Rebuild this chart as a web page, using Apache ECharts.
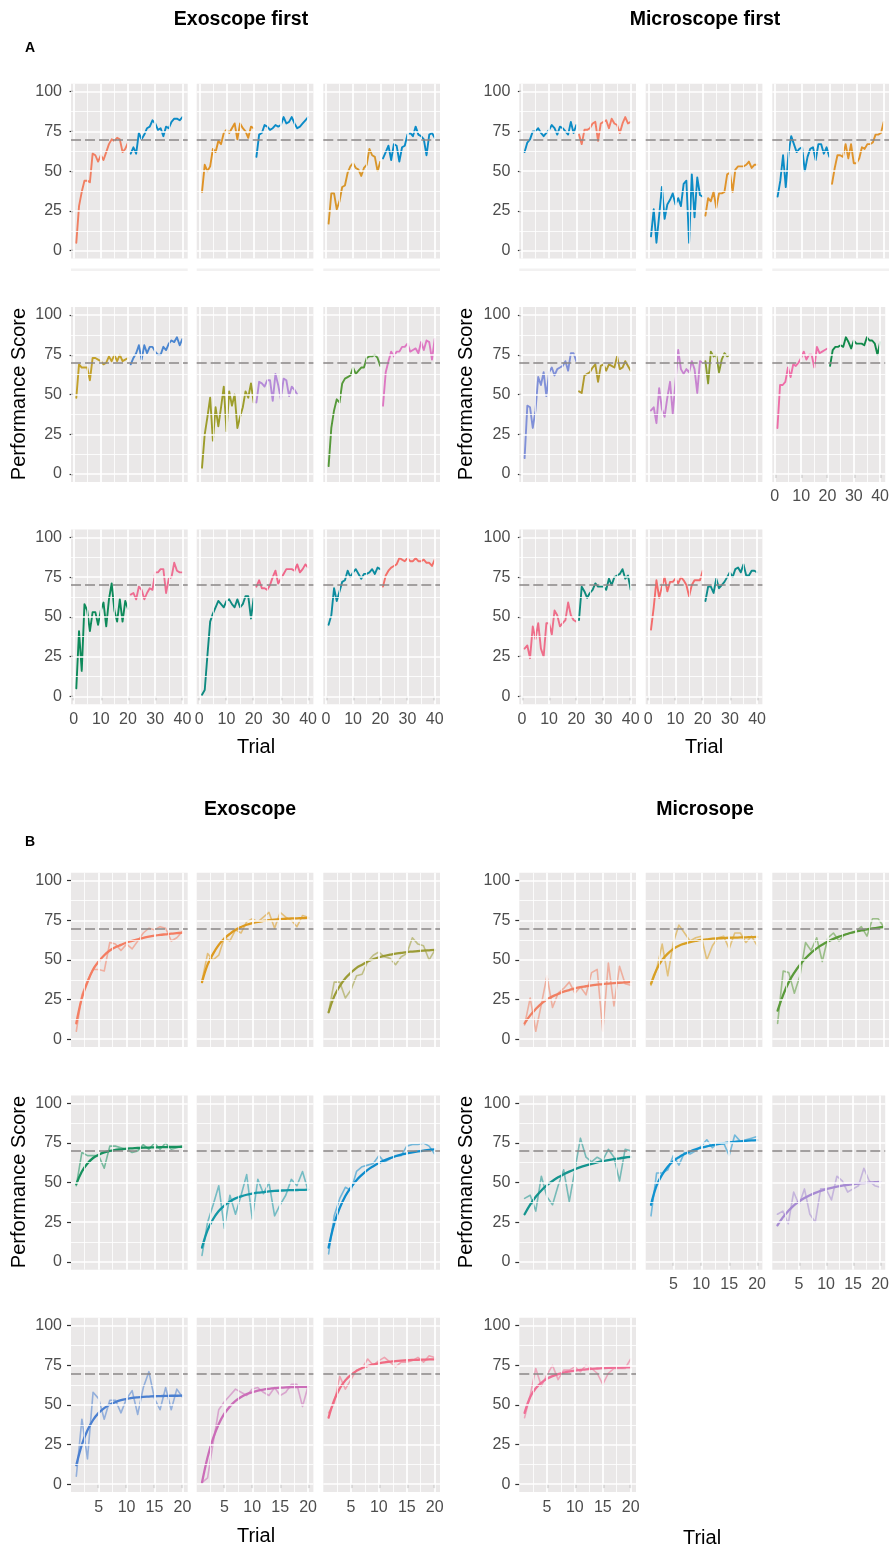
<!DOCTYPE html>
<html><head><meta charset="utf-8">
<script src="https://cdn.jsdelivr.net/npm/echarts@6/dist/echarts.min.js"></script>
<style>html,body{margin:0;padding:0;background:#fff}#c{width:892px;height:1554px}</style>
</head><body><div id="c"></div>
<script>
// ---------------- DATA ----------------
const yTicks = [0, 25, 50, 75, 100];
const yTickLabels = ['0', '25', '50', '75', '100'];
const yMinor = [12.5, 37.5, 62.5, 87.5];
const xTicksA = [0, 10, 20, 30, 40];
const xMinorA = [5, 15, 25, 35];
const xTicksB = [5, 10, 15, 20];
const xMinorB = [2.5, 7.5, 12.5, 17.5];
const threshold = 70;

// Exoscope-first subjects: exoscope trials 1-20, microscope trials 21-40
const e1Exo = [5, 28, 37, 44, 44, 43, 61, 60, 56, 60, 57, 62, 67, 70, 69, 71, 70, 62, 64, 68];
const e1Mic = [61, 65, 61, 74, 70, 73, 77, 78, 82, 80, 76, 77, 72, 78, 77, 81, 83, 83, 82, 84];
const e2Exo = [37, 54, 50, 53, 64, 62, 69, 67, 74, 76, 74, 77, 80, 70, 80, 77, 75, 71, 78, 77];
const e2Mic = [59, 73, 74, 79, 78, 76, 77, 79, 78, 79, 84, 80, 81, 84, 80, 77, 78, 80, 82, 84];
const e3Exo = [17, 36, 36, 26, 31, 40, 41, 49, 53, 55, 52, 51, 47, 52, 54, 64, 60, 59, 50, 56];
const e3Mic = [58, 62, 66, 57, 67, 66, 56, 65, 66, 73, 74, 72, 78, 73, 72, 70, 60, 73, 74, 71];
const e4Exo = [48, 69, 67, 67, 67, 59, 73, 73, 72, 71, 69, 70, 74, 71, 75, 71, 75, 71, 72, 73];
const e4Mic = [69, 73, 76, 81, 72, 81, 76, 80, 80, 77, 75, 75, 80, 78, 82, 84, 83, 86, 81, 85];
const e5Exo = [4, 25, 36, 48, 21, 42, 30, 42, 55, 27, 52, 43, 50, 29, 36, 42, 52, 48, 57, 45];
const e5Mic = [45, 58, 57, 55, 59, 59, 46, 63, 56, 47, 60, 59, 49, 55, 53, 50];
const e6Exo = [5, 29, 40, 47, 45, 57, 60, 61, 62, 67, 63, 65, 67, 67, 73, 74, 74, 75, 73, 68];
const e6Mic = [43, 64, 71, 77, 74, 77, 77, 80, 80, 82, 77, 78, 79, 76, 83, 78, 84, 83, 72, 85];
const e7Exo = [5, 41, 16, 58, 54, 41, 53, 53, 45, 54, 59, 44, 61, 71, 54, 47, 61, 47, 60, 55];
const e7Mic = [64, 65, 61, 69, 67, 61, 65, 68, 67, 78, 78, 80, 80, 65, 74, 75, 84, 79, 78, 78];
const e8Exo = [1, 4, 26, 47, 52, 56, 60, 58, 56, 60, 61, 58, 56, 61, 56, 58, 63, 63, 49, 62];
const e8Mic = [69, 73, 68, 68, 67, 70, 75, 79, 71, 74, 77, 80, 80, 80, 79, 83, 78, 80, 83, 81];
const e9Exo = [45, 51, 68, 60, 66, 72, 73, 79, 75, 78, 80, 77, 74, 77, 77, 78, 80, 77, 81, 80];
const e9Mic = [69, 76, 79, 81, 82, 83, 87, 86, 85, 87, 85, 85, 87, 85, 85, 86, 84, 84, 82, 86];

// Microscope-first subjects: microscope trials 1-20, exoscope trials 21-40
const m1Mic = [62, 68, 70, 75, 75, 77, 74, 72, 74, 76, 79, 77, 73, 78, 77, 75, 73, 81, 74, 79];
const m1Exo = [73, 67, 76, 76, 77, 80, 81, 69, 80, 81, 82, 77, 83, 80, 79, 74, 80, 84, 80, 81];
const m2Mic = [9, 26, 5, 22, 40, 20, 29, 32, 36, 29, 33, 28, 42, 44, 5, 48, 21, 46, 35, 34];
const m2Exo = [22, 33, 31, 37, 27, 36, 36, 37, 48, 49, 37, 51, 53, 53, 53, 54, 56, 52, 54, 54];
const m3Mic = [34, 44, 60, 40, 61, 72, 67, 62, 64, 65, 50, 59, 64, 65, 57, 67, 67, 61, 65, 59];
const m3Exo = [42, 52, 60, 60, 59, 67, 58, 67, 55, 55, 58, 65, 64, 67, 67, 68, 73, 73, 74, 81];
const m4Mic = [10, 43, 42, 29, 40, 61, 56, 64, 49, 64, 67, 62, 66, 67, 68, 71, 65, 76, 76, 71];
const m4Exo = [52, 51, 62, 63, 64, 67, 69, 58, 68, 69, 65, 69, 68, 67, 74, 66, 67, 71, 68, 65];
const m5Mic = [40, 42, 32, 54, 41, 36, 48, 58, 38, 58, 78, 66, 63, 66, 64, 71, 66, 51, 71, 70];
const m5Exo = [71, 57, 77, 74, 75, 64, 72, 76, 74, 75];
const m6Mic = [29, 56, 56, 58, 67, 61, 69, 68, 70, 73, 77, 72, 75, 75, 67, 80, 76, 77, 78, 79];
const m6Exo = [68, 78, 80, 80, 81, 80, 86, 83, 79, 84, 82, 82, 82, 81, 86, 84, 84, 82, 75, 83];
const m7Mic = [30, 32, 24, 44, 36, 46, 30, 25, 46, 46, 39, 54, 51, 44, 46, 48, 59, 51, 48, 47];
const m7Exo = [48, 69, 66, 62, 65, 67, 71, 69, 69, 69, 67, 74, 70, 75, 76, 77, 80, 74, 76, 67];
const m8Mic = [42, 56, 73, 62, 69, 75, 66, 72, 72, 74, 71, 75, 73, 70, 63, 70, 73, 73, 73, 79];
const m8Exo = [60, 69, 69, 65, 74, 68, 70, 72, 75, 78, 75, 80, 81, 78, 83, 76, 76, 79, 79, 78];

// Fitted learning curves (panel B), trials 1-20
const fitE1 = [10, 26, 36, 44, 49, 53, 56, 58, 59.5, 61, 62, 63, 64, 64.7, 65.3, 65.8, 66.2, 66.6, 66.9, 67.2];
const fitE2 = [36, 47, 54, 59.5, 63.5, 66.5, 69, 70.8, 72.2, 73.2, 74, 74.6, 75.1, 75.5, 75.8, 76, 76.2, 76.3, 76.4, 76.5];
const fitE3 = [17, 27, 33.5, 38.5, 42, 45, 47, 49, 50.5, 51.7, 52.6, 53.3, 54, 54.5, 55, 55.3, 55.6, 55.9, 56.1, 56.3];
const fitE4 = [49, 57, 62, 65.5, 67.5, 69, 70, 70.6, 71, 71.4, 71.6, 71.8, 72, 72.1, 72.2, 72.3, 72.4, 72.5, 72.5, 72.6];
const fitE5 = [9, 20, 27, 32, 35.5, 38, 40, 41.3, 42.3, 43, 43.6, 44, 44.4, 44.7, 44.9, 45.1, 45.2, 45.3, 45.4, 45.5];
const fitE6 = [9, 24, 34, 41.5, 47, 51.5, 55, 58, 60.3, 62.3, 64, 65.4, 66.6, 67.6, 68.4, 69.1, 69.7, 70.2, 70.6, 71];
const fitE7 = [12, 25, 34, 40.5, 45, 48, 50.3, 51.8, 53, 53.8, 54.4, 54.8, 55.1, 55.3, 55.5, 55.6, 55.7, 55.8, 55.8, 55.9];
const fitE8 = [1, 17, 29, 38, 44.5, 49, 52.5, 55, 56.8, 58, 59, 59.7, 60.2, 60.6, 60.9, 61.1, 61.2, 61.3, 61.4, 61.5];
const fitE9 = [42, 53, 60.5, 65.5, 69, 71.5, 73.3, 74.6, 75.6, 76.3, 76.9, 77.3, 77.7, 78, 78.2, 78.4, 78.5, 78.6, 78.7, 78.8];
const fitM2 = [10, 15, 19, 22.5, 25, 27, 28.5, 30, 31, 32, 32.8, 33.4, 34, 34.4, 34.8, 35.1, 35.4, 35.6, 35.8, 36];
const fitM3 = [35, 44, 50, 54, 57, 59, 60.3, 61.3, 62, 62.6, 63, 63.4, 63.6, 63.8, 64, 64.1, 64.2, 64.3, 64.4, 64.5];
const fitM4 = [18, 28, 36, 42, 47, 51, 54.5, 57.3, 59.6, 61.6, 63.3, 64.7, 65.9, 67, 67.9, 68.6, 69.3, 69.9, 70.4, 70.8];
const fitM5 = [30, 36, 41, 45, 48.3, 51, 53.3, 55.2, 56.9, 58.4, 59.7, 60.8, 61.8, 62.7, 63.5, 64.2, 64.8, 65.3, 65.8, 66.2];
const fitM6 = [36, 48, 55, 60, 63.5, 66, 68, 69.6, 70.9, 72, 72.9, 73.6, 74.3, 74.8, 75.3, 75.7, 76, 76.3, 76.6, 76.8];
const fitM7 = [23, 28, 32, 35.5, 38, 40.2, 42, 43.5, 44.8, 45.8, 46.7, 47.4, 48, 48.5, 49, 49.4, 49.7, 50, 50.2, 50.4];
const fitM8 = [45, 55, 60.5, 64, 66.5, 68.2, 69.5, 70.4, 71.1, 71.7, 72.1, 72.5, 72.8, 73, 73.2, 73.4, 73.5, 73.6, 73.7, 73.8];

// ---------------- LAYOUT / STYLE ----------------
const FONT = "'Liberation Sans', Arial, Helvetica, sans-serif";
const PANEL_BG = '#EAE8E8';
const exoCols = [71, 196.7, 323.3], microCols = [519.3, 645.7, 772.3];
const PW = 116.7;
const rowsA = [83.7, 307.1, 529.4], PHA = 174.9;
const rowsB = [872.8, 1095.4, 1317.8], PHB = 174.3;
const xRangeA = [-0.95, 41.95], xRangeB = [0.05, 20.95];

const grids = [], xAxes = [], yAxes = [], series = [];

function toPairs(vals, start) { return vals.map((v, i) => [start + i, v]); }

function addPanel(left, top, h, xr, xt, xm, showX, showY, lines) {
  const gi = grids.length;
  grids.push({ left: left, top: top, width: PW, height: h, show: true, backgroundColor: PANEL_BG, borderWidth: 0 });
  const lab = { color: '#4D4D4D', fontSize: 16, fontFamily: FONT };
  xAxes.push({
    type: 'value', gridIndex: gi, min: xr[0], max: xr[1],
    axisLine: { show: false }, splitLine: { show: false },
    axisTick: { show: showX, length: 4, lineStyle: { color: '#333', width: 1.2 }, customValues: xt },
    axisLabel: Object.assign({ show: showX, customValues: xt, margin: 7 }, lab)
  });
  yAxes.push({
    type: 'value', gridIndex: gi, min: -5, max: 105,
    axisLine: { show: false }, splitLine: { show: false },
    axisTick: { show: showY, length: 4, lineStyle: { color: '#333', width: 1.2 }, customValues: yTicks },
    axisLabel: Object.assign({ show: showY, customValues: yTicks, margin: 9,
      formatter: v => yTickLabels[yTicks.indexOf(v)] !== undefined ? yTickLabels[yTicks.indexOf(v)] : String(v) }, lab)
  });
  const ml = [];
  yMinor.forEach(v => ml.push({ yAxis: v, lineStyle: { color: '#fff', width: 0.8, type: 'solid', opacity: 1 } }));
  xm.forEach(v => ml.push({ xAxis: v, lineStyle: { color: '#fff', width: 0.8, type: 'solid', opacity: 1 } }));
  yTicks.forEach(v => ml.push({ yAxis: v, lineStyle: { color: '#fff', width: 1.7, type: 'solid', opacity: 1 } }));
  xt.forEach(v => ml.push({ xAxis: v, lineStyle: { color: '#fff', width: 1.7, type: 'solid', opacity: 1 } }));
  ml.push({ yAxis: threshold, lineStyle: { color: '#8A8686', width: 1.6, type: [10, 4], opacity: 1 } });
  series.push({
    type: 'line', xAxisIndex: gi, yAxisIndex: gi, data: [], z: 1, silent: true, animation: false,
    markLine: { silent: true, symbol: ['none', 'none'], label: { show: false }, animation: false,
      emphasis: { disabled: true }, data: ml }
  });
  lines.forEach(l => {
    series.push({
      type: 'line', xAxisIndex: gi, yAxisIndex: gi, data: l.data, z: l.z || 3,
      showSymbol: false, symbol: 'none', smooth: l.smooth || false, silent: true, animation: false,
      lineStyle: { color: l.color, width: l.width || 1.9, opacity: l.opacity == null ? 1 : l.opacity, cap: 'round', join: 'round' }
    });
  });
}

// Panel A - Exoscope first
const aExo = [
  [e1Exo, e1Mic, '#F07F62', '#0C8BC6'],
  [e2Exo, e2Mic, '#DF9226', '#0A8BC8'],
  [e3Exo, e3Mic, '#D8962A', '#0A8BC8'],
  [e4Exo, e4Mic, '#C3A12A', '#4B86D0'],
  [e5Exo, e5Mic, '#9D9D2B', '#B58BD8'],
  [e6Exo, e6Mic, '#55993A', '#DE78C2'],
  [e7Exo, e7Mic, '#0E8A5A', '#EE6E92'],
  [e8Exo, e8Mic, '#0E8A80', '#F0668A'],
  [e9Exo, e9Mic, '#0C8CA0', '#F3706A']
];
aExo.forEach((p, k) => {
  const r = Math.floor(k / 3), c = k % 3;
  addPanel(exoCols[c], rowsA[r], PHA, xRangeA, xTicksA, xMinorA, r === 2, c === 0, [
    { data: toPairs(p[0], 1), color: p[2] },
    { data: toPairs(p[1], 21), color: p[3] }
  ]);
});
// Panel A - Microscope first
const aMic = [
  [m1Mic, m1Exo, '#0C8CC6', '#F37E66'],
  [m2Mic, m2Exo, '#0C8CC6', '#E0942C'],
  [m3Mic, m3Exo, '#0C8CC6', '#E0942C'],
  [m4Mic, m4Exo, '#8090D8', '#B09A2E'],
  [m5Mic, m5Exo, '#C884D0', '#8A9A2E'],
  [m6Mic, m6Exo, '#EE6EA8', '#11894A'],
  [m7Mic, m7Exo, '#EE6E8A', '#0E8A7C'],
  [m8Mic, m8Exo, '#F36C6C', '#0E8C8C']
];
aMic.forEach((p, k) => {
  const r = Math.floor(k / 3), c = k % 3;
  const showX = r === 2 || (r === 1 && c === 2);
  addPanel(microCols[c], rowsA[r], PHA, xRangeA, xTicksA, xMinorA, showX, c === 0, [
    { data: toPairs(p[0], 1), color: p[2] },
    { data: toPairs(p[1], 21), color: p[3] }
  ]);
});
// Panel B - Exoscope
const bExo = [
  [e1Exo, fitE1, '#F47D62'], [e2Exo, fitE2, '#DD9A1F'], [e3Exo, fitE3, '#9B9B35'],
  [e4Exo, fitE4, '#17915E'], [e5Exo, fitE5, '#1398A6'], [e6Exo, fitE6, '#0E8CCC'],
  [e7Exo, fitE7, '#4A7FD0'], [e8Exo, fitE8, '#CB6DB8'], [e9Exo, fitE9, '#F06A82']
];
bExo.forEach((p, k) => {
  const r = Math.floor(k / 3), c = k % 3;
  addPanel(exoCols[c], rowsB[r], PHB, xRangeB, xTicksB, xMinorB, r === 2, c === 0, [
    { data: toPairs(p[0], 1), color: p[2], opacity: 0.55, width: 1.6 },
    { data: toPairs(p[1], 1), color: p[2], width: 2.3, smooth: 0.4, z: 4 }
  ]);
});
// Panel B - Microscope
const bMic = [
  [m2Mic, fitM2, '#F07F62'], [m3Mic, fitM3, '#D8A024'], [m4Mic, fitM4, '#5A9A3A'],
  [m5Mic, fitM5, '#15948E'], [m6Mic, fitM6, '#1092D0'], [m7Mic, fitM7, '#A68AD2'],
  [m8Mic, fitM8, '#EF6E96']
];
bMic.forEach((p, k) => {
  const r = Math.floor(k / 3), c = k % 3;
  const showX = r === 2 || (r === 1 && c >= 1);
  addPanel(microCols[c], rowsB[r], PHB, xRangeB, xTicksB, xMinorB, showX, c === 0, [
    { data: toPairs(p[0], 1), color: p[2], opacity: 0.55, width: 1.6 },
    { data: toPairs(p[1], 1), color: p[2], width: 2.3, smooth: 0.4, z: 4 }
  ]);
});

// ---------------- TEXT ----------------
function txt(x, y, s, size, bold, rot) {
  return { type: 'text', x: x, y: y, rotation: rot || 0, silent: true,
    style: { text: s, fill: '#000', font: (bold ? 'bold ' : '') + size + 'px ' + FONT,
      textAlign: 'center', textVerticalAlign: 'middle' } };
}
const strips = [];
exoCols.concat(microCols).forEach(x => strips.push({ type: 'rect', silent: true, shape: { x: x, y: 268.5, width: PW, height: 2.5 }, style: { fill: '#F2F1F1' } }));
const graphics = strips.concat([
  txt(241, 20, 'Exoscope first', 19.5, true),
  txt(705, 20, 'Microscope first', 19.5, true),
  txt(30, 48, 'A', 14, true),
  txt(19, 394, 'Performance Score', 20, false, Math.PI / 2),
  txt(466, 394, 'Performance Score', 20, false, Math.PI / 2),
  txt(256, 747, 'Trial', 20, false),
  txt(704, 747, 'Trial', 20, false),
  txt(250, 810, 'Exoscope', 19.5, true),
  txt(705, 810, 'Microsope', 19.5, true),
  txt(30, 842, 'B', 14, true),
  txt(19, 1182, 'Performance Score', 20, false, Math.PI / 2),
  txt(466, 1182, 'Performance Score', 20, false, Math.PI / 2),
  txt(256, 1536, 'Trial', 20, false),
  txt(702, 1538, 'Trial', 20, false)
]);

const chart = echarts.init(document.getElementById('c'), null, { renderer: 'canvas' });
chart.setOption({
  animation: false,
  backgroundColor: '#fff',
  grid: grids, xAxis: xAxes, yAxis: yAxes, series: series,
  graphic: graphics
});
</script></body></html>
